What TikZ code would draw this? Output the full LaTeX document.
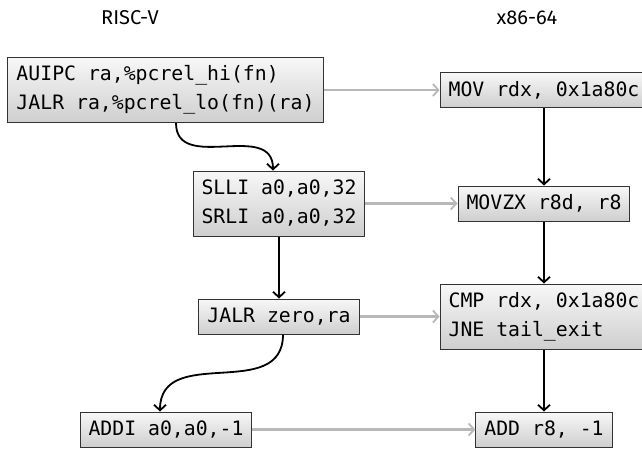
\documentclass[tikz,border=0pt]{standalone}
\usepackage{fontspec}
\setmainfont{Fira Sans}
\newfontfamily\codefont{DejaVu Sans Mono}
\usetikzlibrary{arrows.meta}
\definecolor{edgegray}{HTML}{B8B8B8}
\definecolor{boxline}{HTML}{333333}
\tikzset{
  insn/.style={draw=boxline, line width=1pt, top color=gray!6, bottom color=gray!38,
    font=\codefont\fontsize{19.8}{29}\selectfont, align=left,
    inner xsep=8.5pt, inner ysep=0pt, minimum height=35pt, anchor=center},
  insntwo/.style={insn, minimum height=65pt},
  tipstyle/.style={-{Straight Barb[length=5.5pt,width=12pt,line width=1.8pt]}},
  flow/.style={line width=1.8pt, tipstyle},
  xlate/.style={line width=2.2pt, draw=edgegray, tipstyle},
  isa/.style={font=\fontsize{20}{24}\selectfont}
}
\begin{document}
\begin{tikzpicture}[x=1pt, y=-1pt]
  \useasboundingbox (0,0) rectangle (642,448);
  \clip (0,0) rectangle (642,448);

  % column headings
  \node[isa] (hrv) at (130,18) {RISC-V};
  \node[isa] (hx86) at (527,18) {x86-64};

  % RISC-V sequence
  \node[insntwo] (a) at (165.5,90) {AUIPC ra,\%pcrel\_hi(fn)\\JALR ra,\%pcrel\_lo(fn)(ra)};
  \node[insntwo] (c) at (279,203.5) {SLLI a0,a0,32\\SRLI a0,a0,32};
  \node[insn] (e) at (279,316.5) {JALR zero,ra};
  \node[insn] (g) at (166,429.5) {ADDI a0,a0,-1};

  % x86-64 sequence
  \node[insn] (b) at (544,90) {MOV rdx, 0x1a80c};
  \node[insn] (d) at (544,203.5) {MOVZX r8d, r8};
  \node[insntwo] (f) at (544,316.5) {CMP rdx, 0x1a80c\\JNE tail\_exit};
  \node[insn] (h) at (544,429.5) {ADD r8, -1};

  % control flow within each sequence
  \draw[flow] ([xshift=10.5pt]a.south) to[out=-90, in=90, looseness=1.2] ([xshift=-6pt]c.north);
  \draw[flow] (c.south) -- (e.north);
  \draw[flow] ([xshift=4pt]e.south) to[out=-90, in=90, looseness=1.2] ([xshift=-6pt]g.north);
  \draw[flow] (b.south) -- (d.north);
  \draw[flow] (d.south) -- (f.north);
  \draw[flow] (f.south) -- (h.north);

  % translation correspondences
  \draw[xlate] (a.east) -- (b.west);
  \draw[xlate] (c.east) -- (d.west);
  \draw[xlate] (e.east) -- (f.west);
  \draw[xlate] (g.east) -- (h.west);
\end{tikzpicture}
\end{document}
